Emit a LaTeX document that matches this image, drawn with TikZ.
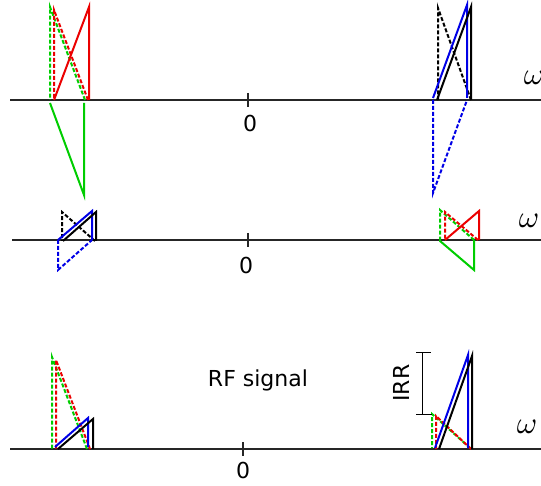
\documentclass[tikz,border=0pt]{standalone}
\usepackage{fontspec}
\setsansfont{DejaVu Sans}
\definecolor{sred}{RGB}{235,0,0}
\definecolor{sgreen}{RGB}{0,205,0}
\definecolor{sblue}{RGB}{0,0,230}
\begin{document}
\begin{tikzpicture}[x=1pt,y=-1pt,line join=miter,
  ax/.style={line width=1.3pt,black!85},
  sig/.style={line width=2pt},
  dsig/.style={line width=2pt,dash pattern=on 4pt off 2pt},
  lbl/.style={font=\sffamily\fontsize{22}{22}\selectfont,inner sep=0pt},
  om/.style={inner sep=0pt}]
\useasboundingbox (0,0) rectangle (541,486);
% axes
\coordinate (a1l) at (10,100); \coordinate (a1r) at (541,100);
\coordinate (a2l) at (12,240); \coordinate (a2r) at (541,240);
\coordinate (a3l) at (10,449); \coordinate (a3r) at (541,449);
\draw[ax] (a1l) -- (a1r);
\draw[ax] (a2l) -- (a2r);
\draw[ax] (a3l) -- (a3r);
\draw[ax] (248,93) -- (248,107);
\draw[ax] (248,233) -- (248,247);
\draw[ax] (243,442) -- (243,456);
\node[lbl] (z1) at (250,123) {0};
\node[lbl] (z2) at (246,265) {0};
\node[lbl] (z3) at (243,470) {0};
\node[om] (w1) at (534,78) {\scalebox{3.1}{$\omega$}};
\node[om] (w2) at (529,221) {\scalebox{3.1}{$\omega$}};
\node[om] (w3) at (527,427) {\scalebox{3.1}{$\omega$}};
% top left
\draw[dsig,sgreen] (85,100) -- (50,7) -- (50,100);
\draw[dsig,sred] (88,100) -- (54,10) -- (54,100);
\draw[sig,sred] (54,100) -- (89,7) -- (89,100);
\draw[sig,sgreen] (50,103) -- (84,195) -- (84,103);
% top right
\draw[dsig,black] (471,100) -- (438,8) -- (438,100);
\draw[sig,sblue] (433,98) -- (467,5) -- (467,98);
\draw[sig,black] (437,100) -- (471,7) -- (471,100);
\draw[dsig,sblue] (433,100) -- (433,193) -- (467,100);
% middle left
\draw[dsig,black] (95,241) -- (62,212) -- (62,241);
\draw[sig,sblue] (58,240) -- (92,211) -- (92,240);
\draw[sig,black] (63,241) -- (96,212) -- (96,241);
\draw[dsig,sblue] (58,240) -- (58,270) -- (92,240);
% middle right
\draw[dsig,sgreen] (474,240) -- (440,210) -- (440,240);
\draw[dsig,sred] (478,240) -- (445,212) -- (445,240);
\draw[sig,sred] (445,240) -- (479,211) -- (479,240);
\draw[sig,sgreen] (440,240) -- (440,241) -- (474,270) -- (474,240);
% bottom left
\draw[dsig,sgreen] (87,449) -- (52,357) -- (52,449);
\draw[dsig,sred] (90,449) -- (56,360) -- (56,449);
\draw[sig,sblue] (55,447) -- (88,418) -- (88,447);
\draw[sig,black] (58,449) -- (93,419) -- (93,449);
% bottom right
\draw[dsig,sgreen] (470,448) -- (432,414) -- (432,448);
\draw[dsig,sred] (471,449) -- (436,416) -- (436,449);
\draw[sig,sblue] (435,448) -- (468,355) -- (468,448);
\draw[sig,black] (439,449) -- (472,356) -- (472,449);
% IRR bracket
\draw[line width=1pt] (416,353) -- (431,353);
\draw[line width=1pt] (422,353) -- (422,414);
\draw[line width=1pt] (416,414) -- (432,414);
\node[lbl,rotate=90] (irr) at (401,383) {IRR};
\node[lbl] (rf) at (258,380) {RF signal};
\end{tikzpicture}
\end{document}
